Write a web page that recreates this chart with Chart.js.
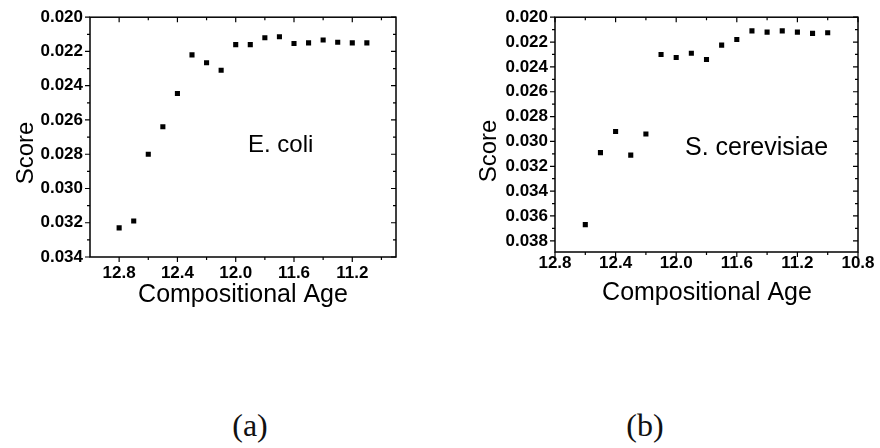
<!DOCTYPE html>
<html>
<head>
<meta charset="utf-8">
<script src="https://cdn.jsdelivr.net/npm/chart.js@4.4.1/dist/chart.umd.min.js"></script>
<style>
  body { margin: 0; background: #fff; width: 880px; height: 448px; position: relative; overflow: hidden; }
  canvas { position: absolute; top: 0; }
  #ecoliChart { left: 0; }
  #yeastChart { left: 440px; }
  .caption { position: absolute; top: 407px; width: 80px; text-align: center; font: 32px "Liberation Serif", serif; color: #111; }
</style>
</head>
<body>
<canvas id="ecoliChart" width="440" height="320"></canvas>
<canvas id="yeastChart" width="440" height="320"></canvas>
<div class="caption" style="left:210px">(a)</div>
<div class="caption" style="left:605px">(b)</div>

<script>
// E. coli
const ecoliAge = [12.8, 12.7, 12.6, 12.5, 12.4, 12.3, 12.2, 12.1, 12.0, 11.9, 11.8, 11.7, 11.6, 11.5, 11.4, 11.3, 11.2, 11.1];
const ecoliScore = [0.0323, 0.0319, 0.0280, 0.0264, 0.02445, 0.0222, 0.02266, 0.0231, 0.0216, 0.0216, 0.0212, 0.02114, 0.02154, 0.0215, 0.02133, 0.02146, 0.0215, 0.0215];
const ecoliAgeTicks = [12.8, 12.4, 12.0, 11.6, 11.2];
const ecoliAgeMinor = [12.6, 12.2, 11.8, 11.4, 11.0];
const ecoliScoreTicks = [0.020, 0.022, 0.024, 0.026, 0.028, 0.030, 0.032, 0.034];
const ecoliScoreMinor = [0.021, 0.023, 0.025, 0.027, 0.029, 0.031, 0.033];

// S. cerevisiae
const yeastAge = [12.6, 12.5, 12.4, 12.3, 12.2, 12.1, 12.0, 11.9, 11.8, 11.7, 11.6, 11.5, 11.4, 11.3, 11.2, 11.1, 11.0];
const yeastScore = [0.0367, 0.0309, 0.0292, 0.0311, 0.0294, 0.0230, 0.02325, 0.0229, 0.0234, 0.02225, 0.0218, 0.0211, 0.0212, 0.0211, 0.0212, 0.0213, 0.02125];
const yeastAgeTicks = [12.8, 12.4, 12.0, 11.6, 11.2, 10.8];
const yeastAgeMinor = [12.6, 12.2, 11.8, 11.4, 11.0];
const yeastScoreTicks = [0.020, 0.022, 0.024, 0.026, 0.028, 0.030, 0.032, 0.034, 0.036, 0.038];
const yeastScoreMinor = [0.021, 0.023, 0.025, 0.027, 0.029, 0.031, 0.033, 0.035, 0.037];

const SANS = '"Liberation Sans", Arial, sans-serif';

// box around the plot, ticks out on left/bottom and in on top/right
const frameTicks = {
  id: 'frameTicks',
  afterDraw(chart, args, opts) {
    const { ctx, chartArea: a } = chart;
    const x = chart.scales.x, y = chart.scales.y;
    ctx.save();
    ctx.strokeStyle = '#000';
    ctx.lineWidth = 1.5;
    ctx.strokeRect(a.left, a.top, a.right - a.left, a.bottom - a.top);
    ctx.lineWidth = 1.2;
    ctx.beginPath();
    const xMarks = (vals, len) => vals.forEach(v => {
      const px = x.getPixelForValue(v);
      ctx.moveTo(px, a.bottom); ctx.lineTo(px, a.bottom + len);
      ctx.moveTo(px, a.top); ctx.lineTo(px, a.top + len);
    });
    const yMarks = (vals, len) => vals.forEach(v => {
      const py = y.getPixelForValue(v);
      ctx.moveTo(a.left, py); ctx.lineTo(a.left - len, py);
      ctx.moveTo(a.right, py); ctx.lineTo(a.right - len, py);
    });
    xMarks(opts.xMajor, 5); xMarks(opts.xMinor, 3);
    yMarks(opts.yMajor, 5); yMarks(opts.yMinor, 3);
    ctx.stroke();
    ctx.restore();
  }
};

// axis titles and the organism label
const panelText = {
  id: 'panelText',
  afterDraw(chart, args, opts) {
    const ctx = chart.ctx;
    ctx.save();
    ctx.fillStyle = '#000';
    ctx.textBaseline = 'alphabetic';
    opts.items.forEach(t => {
      ctx.font = t.font;
      ctx.textAlign = t.align || 'center';
      ctx.save();
      ctx.translate(t.x, t.y);
      if (t.rotate) ctx.rotate(t.rotate);
      ctx.fillText(t.text, 0, 0);
      ctx.restore();
    });
    ctx.restore();
  }
};

function makeChart(id, ages, scores, s) {
  return new Chart(document.getElementById(id), {
    type: 'scatter',
    data: {
      datasets: [{
        data: ages.map((v, i) => ({ x: v, y: scores[i] })),
        backgroundColor: '#000',
        pointStyle: 'rect',
        pointRadius: 3.6,
        pointBorderWidth: 0,
        pointHoverRadius: 3.6
      }]
    },
    options: {
      responsive: false,
      animation: false,
      devicePixelRatio: 1,
      layout: { padding: { left: 0, top: 15, right: s.padRight, bottom: 0 } },
      plugins: {
        legend: { display: false },
        tooltip: { enabled: false },
        frameTicks: { xMajor: s.xTicks, xMinor: s.xMinor, yMajor: s.yTicks, yMinor: s.yMinor },
        panelText: { items: s.texts }
      },
      scales: {
        x: {
          type: 'linear',
          reverse: true,
          min: s.xMin,
          max: s.xMax,
          afterBuildTicks: sc => { sc.ticks = s.xTicks.map(v => ({ value: v })); },
          afterFit: sc => { sc.height = s.xHeight; },
          grid: { display: false, drawTicks: false },
          border: { display: false },
          ticks: {
            padding: s.xPad,
            color: '#000',
            font: { family: SANS, size: 17, weight: 'bold' },
            maxRotation: 0,
            callback: v => v.toFixed(1)
          }
        },
        y: {
          type: 'linear',
          reverse: true,
          min: s.yMin,
          max: s.yMax,
          afterBuildTicks: sc => { sc.ticks = s.yTicks.map(v => ({ value: v })); },
          afterFit: sc => { sc.width = s.yWidth; },
          grid: { display: false, drawTicks: false },
          border: { display: false },
          ticks: {
            padding: 7,
            color: '#000',
            font: { family: SANS, size: 17, weight: 'bold' },
            callback: v => v.toFixed(3)
          }
        }
      }
    },
    plugins: [frameTicks, panelText]
  });
}

makeChart('ecoliChart', ecoliAge, ecoliScore, {
  xMin: 10.9, xMax: 13.0, yMin: 0.020, yMax: 0.034,
  xTicks: ecoliAgeTicks, xMinor: ecoliAgeMinor,
  yTicks: ecoliScoreTicks, yMinor: ecoliScoreMinor,
  yWidth: 90, xHeight: 63, padRight: 44, xPad: 6,
  texts: [
    { text: 'Compositional Age', x: 243, y: 302, font: '25px ' + SANS },
    { text: 'Score', x: 33, y: 153, rotate: -Math.PI / 2, font: '24px ' + SANS },
    { text: 'E. coli', x: 248, y: 152, align: 'left', font: '24px ' + SANS }
  ]
});

makeChart('yeastChart', yeastAge, yeastScore, {
  xMin: 10.8, xMax: 12.8, yMin: 0.020, yMax: 0.0389,
  xTicks: yeastAgeTicks, xMinor: yeastAgeMinor,
  yTicks: yeastScoreTicks, yMinor: yeastScoreMinor,
  yWidth: 115, xHeight: 68, padRight: 22, xPad: 1,
  texts: [
    { text: 'Compositional Age', x: 267, y: 300, font: '25px ' + SANS },
    { text: 'Score', x: 56, y: 151, rotate: -Math.PI / 2, font: '24px ' + SANS },
    { text: 'S. cerevisiae', x: 245, y: 155, align: 'left', font: '25px ' + SANS }
  ]
});
</script>
</body>
</html>
